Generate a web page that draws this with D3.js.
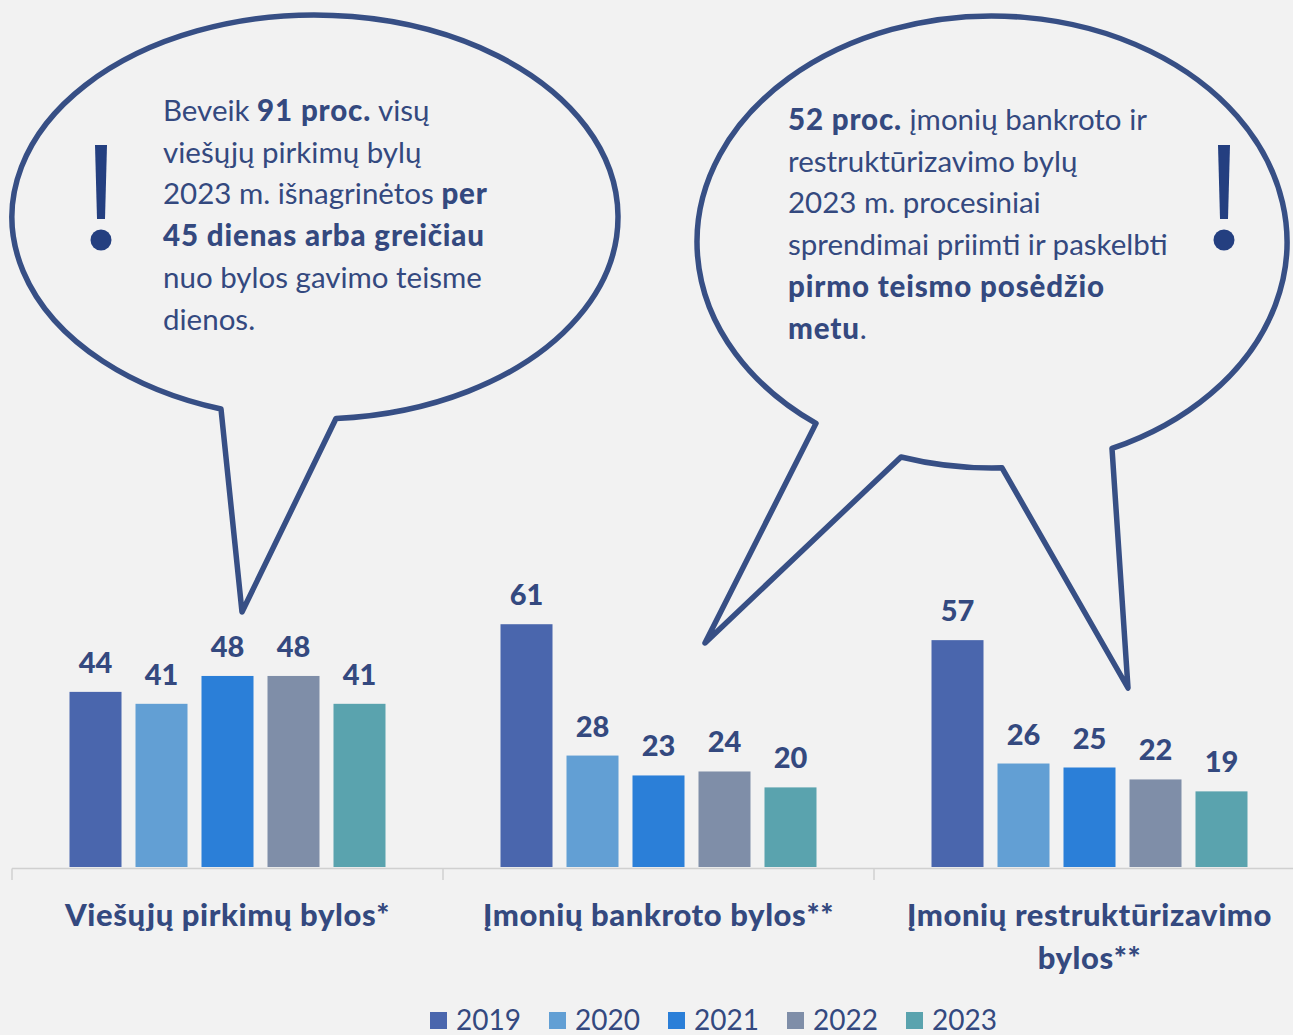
<!DOCTYPE html>
<html>
<head>
<meta charset="utf-8">
<script src="https://cdn.jsdelivr.net/npm/d3@7"></script>
<style>
  body { margin: 0; background: #f2f2f2; }
  svg { display: block; font-family: Lato, "Open Sans", sans-serif; }
</style>
</head>
<body>
<div id="chart"></div>
<script>
var svgWidth = 1293;
var svgHeight = 1035;

// data
var categories = ["Viešųjų pirkimų bylos*", "Įmonių bankroto bylos**", "Įmonių restruktūrizavimo bylos**"];
var categoryLines = [["Viešųjų pirkimų bylos*"], ["Įmonių bankroto bylos**"], ["Įmonių restruktūrizavimo", "bylos**"]];
var years = ["2019", "2020", "2021", "2022", "2023"];
var values2019 = [44, 61, 57];
var values2020 = [41, 28, 26];
var values2021 = [48, 23, 25];
var values2022 = [48, 24, 22];
var values2023 = [41, 20, 19];
var seriesValues = [values2019, values2020, values2021, values2022, values2023];
var colors = ["#4a66ad", "#629fd4", "#2b7fd8", "#7f8ea8", "#5aa3ae"];

// callout texts: [text, bold]
var note1 = [
  [["Beveik ", false], ["91 proc.", true], [" visų", false]],
  [["viešųjų pirkimų bylų", false]],
  [["2023 m. išnagrinėtos ", false], ["per", true]],
  [["45 dienas arba greičiau", true]],
  [["nuo bylos gavimo teisme", false]],
  [["dienos.", false]]
];
var note2 = [
  [["52 proc.", true], [" įmonių bankroto ir", false]],
  [["restruktūrizavimo bylų", false]],
  [["2023 m. procesiniai", false]],
  [["sprendimai priimti ir paskelbti", false]],
  [["pirmo teismo posėdžio", true]],
  [["metu", true], [".", false]]
];

var textColor = "#34497f";
var bubbleColor = "#374f85";

var svg = d3.select("#chart")
  .append("svg")
  .attr("width", svgWidth)
  .attr("height", svgHeight);

svg.append("rect")
  .attr("width", svgWidth)
  .attr("height", svgHeight)
  .attr("fill", "#f2f2f2");

// scales
var baseline = 867;
var x0 = d3.scaleBand()
  .domain(categories)
  .range([12, 12 + 3 * 431]);

var x1 = d3.scaleBand()
  .domain(years)
  .range([0, 316])
  .paddingInner(0.212);

var y = d3.scaleLinear()
  .domain([0, 70])
  .range([baseline, baseline - 70 * 3.98]);

// speech bubbles (drawn first, bars sit on top)
function ellY(e, x) {
  var dx = (x - e.cx) / e.rx;
  return e.cy + e.ry * Math.sqrt(1 - dx * dx);
}

function bubblePath(e, tails) {
  // tails ordered left to right along the bottom of the ellipse
  var first = tails[0];
  var s = "M" + first.x1 + "," + ellY(e, first.x1);
  tails.forEach(function(t, i) {
    s += "L" + t.tip[0] + "," + t.tip[1];
    s += "L" + t.x2 + "," + ellY(e, t.x2);
    if (i < tails.length - 1) {
      var nx = tails[i + 1].x1;
      s += "A" + e.rx + "," + e.ry + " 0 0 0 " + nx + "," + ellY(e, nx);
    }
  });
  s += "A" + e.rx + "," + e.ry + " 0 1 0 " + first.x1 + "," + ellY(e, first.x1) + "Z";
  return s;
}

var ell1 = {cx: 315, cy: 217, rx: 303, ry: 202};
var ell2 = {cx: 992, cy: 242, rx: 295, ry: 226};

var bubbles = svg.append("g").attr("class", "bubbles");

bubbles.append("path")
  .attr("d", bubblePath(ell1, [{x1: 221, tip: [242, 612], x2: 336}]))
  .attr("fill", "#f2f2f2")
  .attr("stroke", bubbleColor)
  .attr("stroke-width", 5.5)
  .attr("stroke-linejoin", "round");

bubbles.append("path")
  .attr("d", bubblePath(ell2, [
    {x1: 816, tip: [705, 643], x2: 901},
    {x1: 1002, tip: [1128, 688], x2: 1112}
  ]))
  .attr("fill", "#f2f2f2")
  .attr("stroke", bubbleColor)
  .attr("stroke-width", 5.5)
  .attr("stroke-linejoin", "round");

// exclamation marks
function exclamation(cx) {
  var g = bubbles.append("g");
  g.append("path")
    .attr("d", "M" + (cx - 6) + ",145L" + (cx + 6) + ",145L" + (cx + 4) + ",219L" + (cx - 4) + ",219Z")
    .attr("fill", "#243f80");
  g.append("circle")
    .attr("cx", cx)
    .attr("cy", 240)
    .attr("r", 10.5)
    .attr("fill", "#243f80");
}
exclamation(101);
exclamation(1224);

function noteText(lines, x, y0) {
  var t = bubbles.append("text")
    .attr("fill", textColor)
    .attr("font-size", 29.5);
  lines.forEach(function(line, i) {
    var first = true;
    line.forEach(function(seg) {
      var ts = t.append("tspan")
        .attr("font-weight", seg[1] ? 900 : 400)
        .attr("letter-spacing", seg[1] ? 0.85 : 0)
        .style("white-space", "pre")
        .text(seg[0]);
      if (first) {
        ts.attr("x", x).attr("y", y0 + i * 41.7);
        first = false;
      }
    });
  });
}
noteText(note1, 163, 121);
noteText(note2, 788, 130);

// axis line
svg.append("line")
  .attr("x1", 12).attr("x2", svgWidth)
  .attr("y1", baseline + 1.5).attr("y2", baseline + 1.5)
  .attr("stroke", "#d0d0d0")
  .attr("stroke-width", 1.5);

var tickXs = [x0(categories[0]), x0(categories[1]), x0(categories[2])];
svg.selectAll(".tick")
  .data(tickXs)
  .enter()
  .append("line")
  .attr("x1", d => d).attr("x2", d => d)
  .attr("y1", baseline + 1.5).attr("y2", baseline + 13)
  .attr("stroke", "#d0d0d0")
  .attr("stroke-width", 1.5);

// bars
var groups = svg.selectAll(".group")
  .data(categories)
  .enter()
  .append("g")
  .attr("transform", d => `translate(${x0(d) + x0.bandwidth() / 2 - 158},0)`);

groups.each(function(cat, ci) {
  var g = d3.select(this);
  var rows = years.map((yr, si) => ({year: yr, value: seriesValues[si][ci], color: colors[si]}));

  g.selectAll("rect")
    .data(rows)
    .enter()
    .append("rect")
    .attr("x", d => x1(d.year))
    .attr("y", d => y(d.value))
    .attr("width", x1.bandwidth())
    .attr("height", d => baseline - y(d.value))
    .attr("fill", d => d.color);

  g.selectAll("text")
    .data(rows)
    .enter()
    .append("text")
    .attr("x", d => x1(d.year) + x1.bandwidth() / 2)
    .attr("y", d => y(d.value) - 19)
    .attr("text-anchor", "middle")
    .attr("font-size", 29)
    .attr("font-weight", 900)
    .attr("fill", textColor)
    .text(d => d.value);
});

// category labels
categories.forEach(function(cat, ci) {
  var t = svg.append("text")
    .attr("text-anchor", "middle")
    .attr("font-size", 31)
    .attr("font-weight", 900)
    .attr("letter-spacing", 0.6)
    .attr("fill", textColor);
  categoryLines[ci].forEach(function(line, li) {
    t.append("tspan")
      .attr("x", x0(cat) + x0.bandwidth() / 2)
      .attr("y", 926 + li * 43)
      .text(line);
  });
});

// legend
var legend = svg.selectAll(".legend")
  .data(years)
  .enter()
  .append("g")
  .attr("transform", (d, i) => `translate(${430 + i * 119},0)`);

legend.append("rect")
  .attr("x", 0).attr("y", 1012)
  .attr("width", 17).attr("height", 17)
  .attr("fill", (d, i) => colors[i]);

legend.append("text")
  .attr("x", 26).attr("y", 1030)
  .attr("font-size", 28)
  .attr("fill", textColor)
  .text(d => d);
</script>
</body>
</html>
